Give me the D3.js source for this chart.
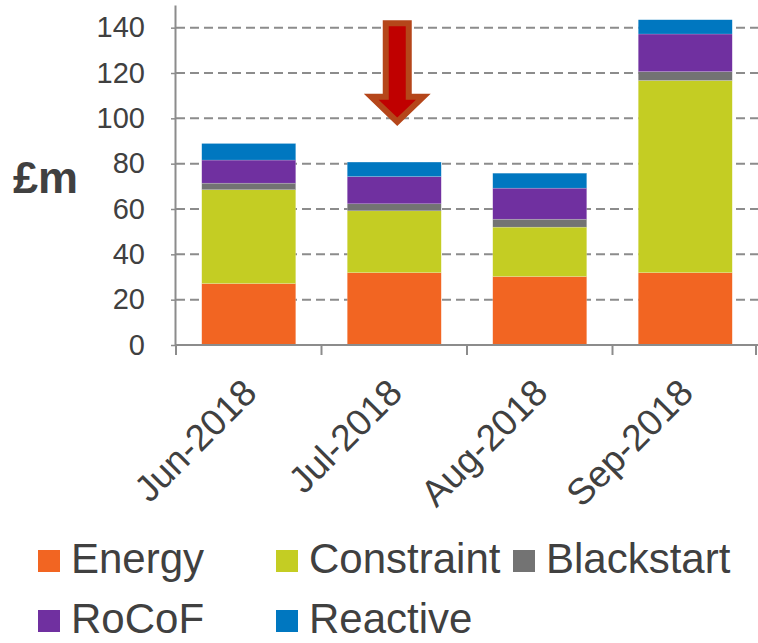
<!DOCTYPE html>
<html>
<head>
<meta charset="utf-8">
<script src="https://cdn.jsdelivr.net/npm/d3@7"></script>
<style>
  body { margin: 0; background: #fff; }
  svg { display: block; font-family: "Liberation Sans", Arial, sans-serif; }
</style>
</head>
<body>
<svg id="chart" width="758" height="643"></svg>
<script>
let months = ['Jun-2018', 'Jul-2018', 'Aug-2018', 'Sep-2018'];
let series = ['Energy', 'Constraint', 'Blackstart', 'RoCoF', 'Reactive'];
let colors = ['#F26522', '#C4CD23', '#737373', '#7030A0', '#0077C0'];

let energy = [27.1, 31.9, 30.2, 31.9];
let constraint = [41.4, 27.3, 21.8, 84.8];
let blackstart = [2.9, 3.1, 3.5, 3.9];
let rocof = [10.2, 12.0, 13.7, 16.6];
let reactive = [7.3, 6.4, 6.6, 6.3];

let yTicks = [0, 20, 40, 60, 80, 100, 120, 140];

let textColor = '#404040';
let axisColor = '#8c8c8c';

let svg = d3.select('#chart');

let x = d3.scaleBand()
  .domain(months)
  .range([176, 758])
  .paddingInner(0.354)
  .paddingOuter(0.177);

let y = d3.scaleLinear()
  .domain([0, 150])
  .range([345, 5]);

// rows for the stack
let rows = months.map((m, i) => ({
  month: m,
  Energy: energy[i],
  Constraint: constraint[i],
  Blackstart: blackstart[i],
  RoCoF: rocof[i],
  Reactive: reactive[i]
}));

let stack = d3.stack().keys(series)(rows);

// gridlines
svg.append('g')
  .selectAll('line')
  .data(yTicks.filter(d => d > 0))
  .enter()
  .append('line')
  .attr('x1', x.range()[0])
  .attr('x2', x.range()[1])
  .attr('y1', d => y(d))
  .attr('y2', d => y(d))
  .attr('stroke', axisColor)
  .attr('stroke-width', 2)
  .attr('stroke-dasharray', '9,5');

// bars
svg.append('g')
  .selectAll('g')
  .data(stack)
  .enter()
  .append('g')
  .attr('fill', (d, i) => colors[i])
  .selectAll('rect')
  .data(d => d)
  .enter()
  .append('rect')
  .attr('x', d => x(d.data.month))
  .attr('width', x.bandwidth())
  .attr('y', d => y(d[1]))
  .attr('height', d => y(d[0]) - y(d[1]))
  .attr('stroke', '#fff')
  .attr('stroke-opacity', 0.35)
  .attr('stroke-width', 0.5);

// y axis
let yAxis = d3.axisLeft(y)
  .tickValues(yTicks)
  .tickSize(4)
  .tickSizeOuter(0)
  .tickPadding(26);

let yg = svg.append('g')
  .attr('transform', `translate(${x.range()[0] - 1},0)`)
  .call(yAxis);

yg.select('.domain').attr('stroke', axisColor).attr('stroke-width', 2);
yg.selectAll('.tick line').attr('stroke', axisColor).attr('stroke-width', 1.5);
yg.selectAll('.tick text')
  .attr('fill', textColor)
  .style('font-size', '29px')
  .style('font-family', '"Liberation Sans", Arial, sans-serif');

// x axis line and boundary ticks
let step = x.step();
let x0 = x.range()[0];

svg.append('line')
  .attr('x1', x0 - 1)
  .attr('x2', x.range()[1])
  .attr('y1', y(0))
  .attr('y2', y(0))
  .attr('stroke', axisColor)
  .attr('stroke-width', 2);

svg.append('g')
  .selectAll('line')
  .data(d3.range(months.length + 1))
  .enter()
  .append('line')
  .attr('x1', d => Math.min(x0 + d * step, 756))
  .attr('x2', d => Math.min(x0 + d * step, 756))
  .attr('y1', y(0))
  .attr('y2', y(0) + 10)
  .attr('stroke', axisColor)
  .attr('stroke-width', 2);

// x labels
svg.append('g')
  .selectAll('text')
  .data(months)
  .enter()
  .append('text')
  .text(d => d)
  .attr('transform', d => `translate(${x(d) + x.bandwidth() / 2 + 10},${y(0) + 50}) rotate(-45)`)
  .attr('text-anchor', 'end')
  .attr('fill', textColor)
  .style('font-size', '37px');

// unit label
svg.append('text')
  .text('£m')
  .attr('x', 13)
  .attr('y', 193)
  .attr('fill', textColor)
  .style('font-size', '45px')
  .style('font-weight', 'bold');

// arrow over July
let ax = x('Jul-2018') + x.bandwidth() / 2 + 3;
let arrowTop = y(142), headTop = y(109.5), tip = y(98.5);
let shaftHalf = 11.5, headHalf = 26;

svg.append('path')
  .attr('d', `M${ax - shaftHalf},${arrowTop} L${ax + shaftHalf},${arrowTop} L${ax + shaftHalf},${headTop}
    L${ax + headHalf},${headTop} L${ax},${tip} L${ax - headHalf},${headTop} L${ax - shaftHalf},${headTop} Z`)
  .attr('fill', '#C00000')
  .attr('stroke', '#B5461A')
  .attr('stroke-width', 6)
  .attr('stroke-linejoin', 'miter');

// legend
let legendPos = [
  [38, 550], [276, 550], [513, 550],
  [38, 610], [276, 610]
];

let legend = svg.append('g')
  .selectAll('g')
  .data(series)
  .enter()
  .append('g')
  .attr('transform', (d, i) => `translate(${legendPos[i][0]},${legendPos[i][1]})`);

legend.append('rect')
  .attr('width', 22)
  .attr('height', 22)
  .attr('fill', (d, i) => colors[i]);

legend.append('text')
  .text(d => d)
  .attr('x', 33)
  .attr('y', 23)
  .attr('fill', textColor)
  .style('font-size', '42px');
</script>
</body>
</html>
